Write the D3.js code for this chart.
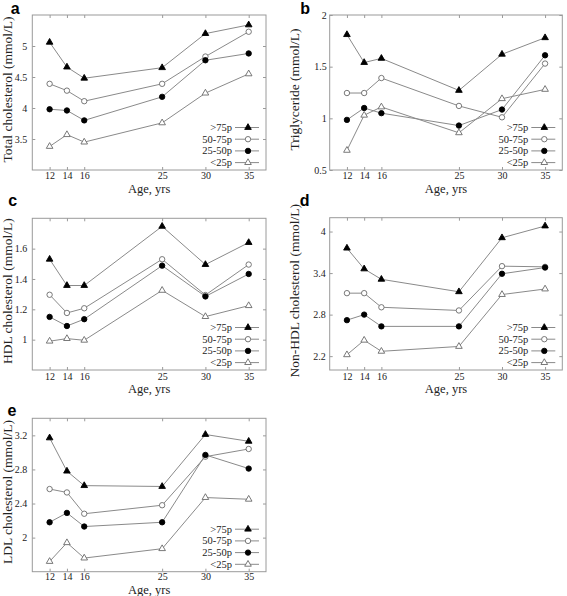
<!DOCTYPE html>
<html><head><meta charset="utf-8">
<script src="https://cdn.jsdelivr.net/npm/d3@7"></script>
<style>
html,body{margin:0;padding:0;background:#fff;}
svg{display:block;}
</style></head>
<body>
<svg id="chart" width="567" height="596"></svg>
<script>
// ---- data ----
const ages = [12, 14, 16, 25, 30, 35];
const groups = [">75p", "50-75p", "25-50p", "<25p"];

const totalChol = [
  [5.06, 4.66, 4.48, 4.65, 5.20, 5.34],
  [4.39, 4.28, 4.11, 4.39, 4.83, 5.23],
  [3.98, 3.96, 3.80, 4.18, 4.77, 4.88],
  [3.38, 3.57, 3.45, 3.76, 4.24, 4.55]
];
const triglyceride = [
  [1.81, 1.54, 1.58, 1.27, 1.62, 1.78],
  [1.245, 1.245, 1.39, 1.12, 1.01, 1.53],
  [0.985, 1.10, 1.05, 0.93, 1.085, 1.61],
  [0.69, 1.03, 1.11, 0.86, 1.19, 1.28]
];
const hdlChol = [
  [1.53, 1.357, 1.357, 1.747, 1.495, 1.64],
  [1.296, 1.176, 1.207, 1.53, 1.294, 1.495],
  [1.15, 1.09, 1.135, 1.488, 1.285, 1.433],
  [0.99, 1.007, 0.996, 1.325, 1.152, 1.224]
];
const nonHdlChol = [
  [3.76, 3.46, 3.31, 3.13, 3.91, 4.08],
  [3.11, 3.11, 2.906, 2.86, 3.50, 3.49],
  [2.72, 2.80, 2.63, 2.63, 3.39, 3.48],
  [2.22, 2.43, 2.27, 2.34, 3.09, 3.17]
];
const ldlChol = [
  [3.17, 2.78, 2.61, 2.60, 3.21, 3.13],
  [2.57, 2.53, 2.28, 2.38, 2.95, 3.04],
  [2.18, 2.29, 2.13, 2.18, 2.97, 2.81],
  [1.72, 1.94, 1.76, 1.87, 2.47, 2.45]
];

const yTicksA = [3.5, 4, 4.5, 5];
const yTicksB = [0.5, 1, 1.5, 2];
const yTicksC = [1, 1.2, 1.4, 1.6];
const yTicksD = [2.2, 2.8, 3.4, 4];
const yTicksE = [2, 2.4, 2.8, 3.2];

const panels = [
  {letter: "a", title: "Total cholesterol (mmol/L)", data: totalChol, domain: [3, 5.5], ticks: yTicksA,
   box: [32.3, 15, 266, 170], lx: 10.7, ly: 14, tx: 11.5, tickPad: 5, xl: 9, xt: 22.5},
  {letter: "b", title: "Triglyceride (mmol/L)", data: triglyceride, domain: [0.5, 2], ticks: yTicksB,
   box: [329.7, 15, 562.3, 170], lx: 300.3, ly: 13.5, tx: 298.5, tickPad: 3, xl: 9, xt: 22.5},
  {letter: "c", title: "HDL cholesterol (mmol/L)", data: hdlChol, domain: [0.8, 1.8], ticks: yTicksC,
   box: [32.3, 218.3, 266, 370], lx: 8.3, ly: 206, tx: 11.5, tickPad: 5, xl: 9.5, xt: 23},
  {letter: "d", title: "Non-HDL cholesterol (mmol/L)", data: nonHdlChol, domain: [2.0, 4.2], ticks: yTicksD,
   box: [329.7, 217.7, 562.3, 370], lx: 299.7, ly: 205.5, tx: 298.5, tickPad: 4, xl: 9.5, xt: 23},
  {letter: "e", title: "LDL cholesterol (mmol/L)", data: ldlChol, domain: [1.6, 3.4], ticks: yTicksE,
   box: [32.3, 418.3, 266, 571.7], lx: 7.5, ly: 416, tx: 11.5, tickPad: 5, xl: 8.5, xt: 22}
];

const svg = d3.select("#chart");
const serif = "'Liberation Serif', 'Times New Roman', serif";
const lineCol = "#8a8a8a";
const frameCol = "#9a9a9a";
const markerStroke = "#6a6a6a";

const triSym = d3.symbol().type(d3.symbolTriangle).size(19);
const circSym = d3.symbol().type(d3.symbolCircle).size(23);
const markerDefs = [
  {sym: triSym, fill: "#000", stroke: "#000"},
  {sym: circSym, fill: "#fff", stroke: markerStroke},
  {sym: circSym, fill: "#000", stroke: "#000"},
  {sym: triSym, fill: "#fff", stroke: markerStroke}
];

function drawMarker(g, i, x, y) {
  const m = markerDefs[i];
  g.append("path").attr("d", m.sym()).attr("transform", `translate(${x},${y})`)
    .attr("fill", m.fill).attr("stroke", m.stroke).attr("stroke-width", 0.9);
}

panels.forEach(p => {
  const [x0, y0, x1, y1] = p.box;
  const x = d3.scaleLinear().domain([10, 37]).range([x0, x1]);
  const y = d3.scaleLinear().domain(p.domain).range([y1, y0]);
  const g = svg.append("g");

  // frame
  g.append("rect").attr("x", x0).attr("y", y0).attr("width", x1 - x0).attr("height", y1 - y0)
    .attr("fill", "none").attr("stroke", frameCol).attr("stroke-width", 1);

  // axes
  const axL = g.append("g").attr("transform", `translate(${x0},0)`)
    .call(d3.axisLeft(y).tickValues(p.ticks).tickSize(-3).tickPadding(p.tickPad).tickFormat(d3.format("~g")));
  const axR = g.append("g").attr("transform", `translate(${x1},0)`)
    .call(d3.axisRight(y).tickValues(p.ticks).tickSize(-3).tickFormat(""));
  const axB = g.append("g").attr("transform", `translate(0,${y1})`)
    .call(d3.axisBottom(x).tickValues(ages).tickSize(-3).tickPadding(0).tickFormat(d3.format("d")));
  const axT = g.append("g").attr("transform", `translate(0,${y0})`)
    .call(d3.axisTop(x).tickValues(ages).tickSize(-3).tickFormat(""));
  [axL, axR, axB, axT].forEach(a => {
    a.select(".domain").remove();
    a.selectAll(".tick line").attr("stroke", frameCol);
    a.selectAll("text").attr("font-family", serif).attr("font-size", 10).attr("fill", "#222");
  });
  axB.selectAll(".tick text").attr("dy", null).attr("y", p.xl);

  // axis titles
  g.append("text").attr("x", (x0 + x1) / 2).attr("y", y1 + p.xt)
    .attr("text-anchor", "middle").attr("font-family", serif).attr("font-size", 12.5).attr("fill", "#222")
    .text("Age, yrs");
  g.append("text").attr("transform", `translate(${p.tx},${(y0 + y1) / 2 - 3}) rotate(-90)`)
    .attr("text-anchor", "middle").attr("font-family", serif).attr("font-size", 13.5).attr("fill", "#222")
    .text(p.title);

  // panel letter
  g.append("text").attr("x", p.lx).attr("y", p.ly)
    .attr("font-family", "'Liberation Sans', Arial, sans-serif").attr("font-weight", "bold")
    .attr("font-size", 16).attr("fill", "#000").text(p.letter);

  // series lines
  const line = d3.line().x((d, i) => x(ages[i])).y(d => y(d));
  p.data.forEach((s, k) => {
    g.append("path").datum(s).attr("d", line).attr("fill", "none")
      .attr("stroke", lineCol).attr("stroke-width", 1);
  });
  // markers
  p.data.forEach((s, k) => {
    s.forEach((v, i) => drawMarker(g, k, x(ages[i]), y(v)));
  });

  // legend
  groups.forEach((name, k) => {
    const ly = y1 - 42.5 + k * 11.7;
    g.append("text").attr("x", x1 - 34).attr("y", ly).attr("dy", "0.33em")
      .attr("text-anchor", "end").attr("font-family", serif).attr("font-size", 10.5).attr("fill", "#222")
      .text(name);
    g.append("line").attr("x1", x1 - 31).attr("x2", x1 - 7).attr("y1", ly).attr("y2", ly)
      .attr("stroke", lineCol).attr("stroke-width", 1);
    drawMarker(g, k, x1 - 18, ly);
  });
});
</script>
</body></html>
